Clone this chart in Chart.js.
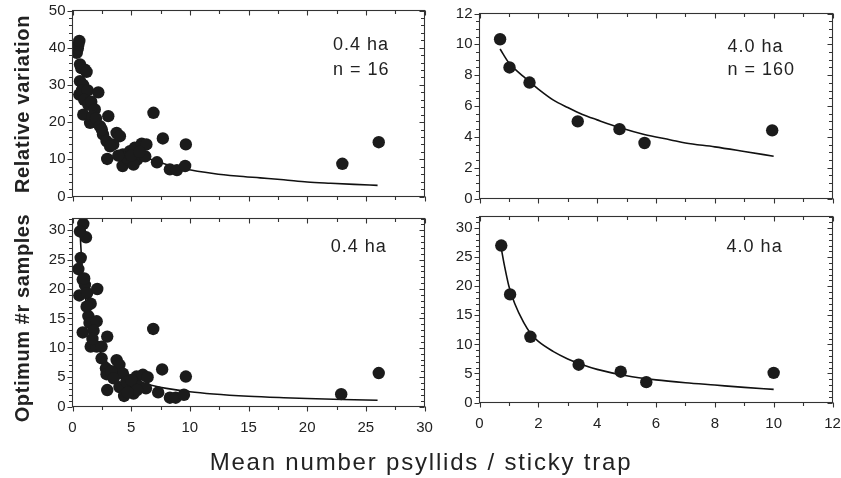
<!DOCTYPE html>
<html><head><meta charset="utf-8">
<script src="https://cdn.jsdelivr.net/npm/chart.js@4.4.1/dist/chart.umd.min.js"></script>
<style>
html,body{margin:0;padding:0;background:#fff}
body{width:841px;height:478px;position:relative;overflow:hidden;font-family:"Liberation Sans",Arial,sans-serif}
canvas{position:absolute}
.t{position:absolute;color:#222;white-space:nowrap;line-height:1}
</style></head><body>
<canvas id="c1" width="440" height="205" style="left:0;top:0"></canvas>
<canvas id="c2" width="411" height="205" style="left:430px;top:0"></canvas>
<canvas id="c3" width="440" height="245" style="left:0;top:205px"></canvas>
<canvas id="c4" width="411" height="245" style="left:430px;top:205px"></canvas>
<div class="t" id="yt1" style="left:22px;top:104px;font-size:20px;font-weight:bold;letter-spacing:0.7px;transform:translate(-50%,-50%) rotate(-90deg)">Relative variation</div>
<div class="t" id="yt2" style="left:22px;top:318px;font-size:20px;font-weight:bold;letter-spacing:0.6px;transform:translate(-50%,-50%) rotate(-90deg)">Optimum #r samples</div>
<div class="t" id="xt" style="left:421px;top:462px;font-size:24px;letter-spacing:1.8px;transform:translate(-50%,-50%)">Mean number psyllids / sticky trap</div>
<script>
// ---------- data ----------
// Top-left: relative variation, 0.4 ha
const rv04X = [0.36,0.45,0.5,0.58,0.64,0.75,1.06,1.2,0.64,0.9,0.58,0.8,1.3,2.2,1.0,1.35,1.6,0.92,1.9,1.5,1.7,2.0,2.34,3.05,2.6,2.9,2.5,3.76,4.04,3.47,3.2,4.3,2.96,4.27,4.9,5.3,5.9,6.3,4.75,5.5,6.2,5.2,4.6,3.9,5.0,5.7,6.9,7.2,7.7,8.3,8.9,9.6,9.66,23.0,26.1];
const rv04Y = [38.6,39.8,40.8,41.8,35.5,34.5,34.1,33.5,31,30,27.4,28.5,28.5,28,26,24.7,25.5,22,23.4,19.8,21.5,21,18.9,21.6,16.7,14.9,18,17.1,16.2,14,13.5,11.3,10.1,8.2,12.2,13.1,14.2,14,9.9,9.9,10.8,8.6,10.5,11,11,12,22.5,9.2,15.6,7.3,7.1,8.2,14,8.8,14.6];
const rv04FitX = [5.5,6.5,8,9.6,12,14,16,18,20,22,24,26];
const rv04FitY = [12.0,10.2,8.6,7.4,6.2,5.5,5.0,4.5,3.9,3.55,3.25,3.0];
// Top-right: relative variation, 4.0 ha
const rv40X = [0.70,1.02,1.70,3.34,4.76,5.61,9.95];
const rv40Y = [10.33,8.5,7.52,5.0,4.5,3.6,4.42];
const rv40FitX = [0.7,1.0,1.5,2.0,2.5,3.0,3.5,4.0,4.76,5.6,6.5,7.0,8.0,9.0,10.0];
const rv40FitY = [9.7,8.8,7.9,7.1,6.4,5.9,5.45,5.1,4.6,4.15,3.8,3.6,3.35,3.05,2.74];
// Bottom-left: optimum number of samples, 0.4 ha
const os04X = [0.92,1.15,0.64,0.7,0.5,0.58,0.87,1.06,1.25,0.87,1.55,1.35,1.45,2.11,2.06,1.8,1.55,2.06,2.48,2.48,2.96,2.85,2.9,2.96,3.6,3.76,4.0,4.3,4.0,4.4,4.9,5.2,5.46,5.7,6.0,6.26,6.4,6.88,7.3,7.64,8.3,8.8,9.5,9.66,22.9,26.1,1.2,1.7,3.3,4.6,5.0,5.5,3.5,4.7,1.0];
const os04Y = [31.1,28.8,29.8,25.3,23.4,18.9,21.6,20.7,19.3,12.6,17.5,15.4,14.2,20.0,14.5,12.9,10.2,10.2,10.2,8.2,11.9,6.5,5.5,2.8,5.3,7.9,7.1,5.6,3.3,1.8,3.0,2.2,5.1,3.4,5.4,3.1,5.0,13.2,2.4,6.3,1.5,1.5,2.0,5.1,2.1,5.7,17,11.5,6,4.2,4.5,2.8,4.8,2.4,21.8];
const os04FitX = [0.6,0.7,0.8,1.0,1.25,1.5,2,2.5,3,4,5,6,7,8,10,12,15,18,20,23,26];
const os04FitY = [31.8,27.6,24.5,20.1,16.4,13.9,10.8,8.8,7.4,5.8,4.7,4.0,3.48,3.09,2.52,2.14,1.75,1.49,1.35,1.19,1.07];
// Bottom-right: optimum number of samples, 4.0 ha
const os40X = [0.74,1.04,1.73,3.37,4.8,5.67,10.0];
const os40Y = [27.0,18.6,11.3,6.5,5.3,3.5,5.1];
const os40FitX = [0.74,0.85,1.0,1.2,1.5,1.75,2.0,2.5,3.0,3.5,4.0,5.0,6.0,7.0,8.0,9.0,10.0];
const os40FitY = [26.5,23.5,20.0,17.0,13.8,11.8,10.5,8.8,7.5,6.5,5.7,4.6,3.9,3.4,3.0,2.6,2.25];
// tick labels
const xTicksLeft = [0,5,10,15,20,25,30];
const xTicksRight = [0,2,4,6,8,10,12];
const yTicksRV04 = [0,10,20,30,40,50];
const yTicksRV40 = [0,2,4,6,8,10,12];
const yTicksOS = [0,5,10,15,20,25,30];
// panel labels
const labelsTL = ["0.4 ha","n = 16"];
const labelsTR = ["4.0 ha","n = 160"];
const labelsBL = ["0.4 ha"];
const labelsBR = ["4.0 ha"];

// ---------- drawing ----------
const FONT = '"Liberation Sans", Arial, sans-serif';
const pts = (xs, ys) => xs.map((x, i) => ({x, y: ys[i]}));

const frameTicks = {
  id: 'frameTicks',
  afterDraw(chart, args, o) {
    const {ctx, chartArea: a, scales: {x, y}} = chart;
    ctx.save();
    ctx.strokeStyle = '#333';
    ctx.lineWidth = 1.1;
    ctx.strokeRect(a.left, a.top, a.right - a.left, a.bottom - a.top);
    ctx.beginPath();
    const seg = (x1, y1, x2, y2) => { ctx.moveTo(x1, y1); ctx.lineTo(x2, y2); };
    const isMaj = (v, step) => Math.abs(v / step - Math.round(v / step)) < 1e-6;
    for (let v = x.min; v <= x.max + 1e-9; v += o.xMinor) {
      const p = Math.round(x.getPixelForValue(v)) + 0.5;
      const L = isMaj(v, o.xMajor) ? 5 : 3.5;
      seg(p, a.bottom, p, a.bottom + L);
      seg(p, a.top, p, a.top + L);
    }
    for (let v = y.min; v <= y.max + 1e-9; v += o.yMinor) {
      const p = Math.round(y.getPixelForValue(v)) + 0.5;
      const L = isMaj(v, o.yMajor) ? 5 : 3.5;
      seg(a.left - L, p, a.left, p);
      seg(a.right - L, p, a.right, p);
    }
    ctx.stroke();
    // panel labels
    ctx.fillStyle = '#222';
    ctx.font = '18px ' + FONT;
    ctx.letterSpacing = '1px';
    ctx.textBaseline = 'middle';
    ctx.textAlign = 'left';
    o.labels.forEach(l => ctx.fillText(l.text, x.getPixelForValue(l.x), y.getPixelForValue(l.y)));
    ctx.restore();
  }
};

function make(id, box, area, xr, yr, showX, scatter, fit, labels) {
  const W = box.w, H = box.h;
  new Chart(document.getElementById(id), {
    data: {
      datasets: [
        {type: 'scatter', data: scatter, pointRadius: 6.2, pointHoverRadius: 6.2, backgroundColor: '#1b1b1b', borderWidth: 0, order: 0},
        {type: 'line', data: fit, showLine: true, pointRadius: 0, borderColor: '#111', borderWidth: 1.6, cubicInterpolationMode: 'monotone', fill: false, order: 1}
      ]
    },
    options: {
      responsive: false, animation: false, devicePixelRatio: 1, events: [],
      layout: {padding: {left: 0, top: area.t - box.y, right: box.x + W - area.r, bottom: 0}},
      plugins: {legend: {display: false}, tooltip: {enabled: false},
        frameTicks: {xMajor: xr.major, xMinor: xr.minor, yMajor: yr.major, yMinor: yr.minor, labels}},
      scales: {
        x: {type: 'linear', min: xr.min, max: xr.max,
          afterBuildTicks: s => { s.ticks = xr.ticks.map(v => ({value: v})); },
          afterFit: s => { s.height = box.y + H - area.b; s.paddingLeft = 0; s.paddingRight = 0; s.paddingTop = 0; s.paddingBottom = 0; },
          ticks: {display: showX, padding: 12, color: '#222', font: {family: FONT, size: 15}, maxRotation: 0, autoSkip: false},
          grid: {display: false, drawTicks: false}, border: {display: false}},
        y: {type: 'linear', min: yr.min, max: yr.max,
          afterBuildTicks: s => { s.ticks = yr.ticks.map(v => ({value: v})); },
          afterFit: s => { s.width = area.l - box.x; s.paddingLeft = 0; s.paddingRight = 0; s.paddingTop = 0; s.paddingBottom = 0; },
          ticks: {padding: 7, color: '#222', font: {family: FONT, size: 15}, autoSkip: false},
          grid: {display: false, drawTicks: false}, border: {display: false}}
      }
    },
    plugins: [frameTicks]
  });
}

const xL = {min: 0, max: 30, major: 5, minor: 2.5, ticks: xTicksLeft};
const xR = {min: 0, max: 12, major: 2, minor: 1, ticks: xTicksRight};

make('c1', {x: 0, y: 0, w: 440, h: 205}, {l: 72.5, t: 10.5, r: 424.5, b: 196.5}, xL,
  {min: 0, max: 50, major: 10, minor: 2, ticks: yTicksRV04}, false,
  pts(rv04X, rv04Y), pts(rv04FitX, rv04FitY),
  [{x: 22.2, y: 40.7, text: labelsTL[0]}, {x: 22.2, y: 34.1, text: labelsTL[1]}]);

make('c2', {x: 430, y: 0, w: 411, h: 205}, {l: 479.5, t: 13.5, r: 832.5, b: 198.5}, xR,
  {min: 0, max: 12, major: 2, minor: 0.5, ticks: yTicksRV40}, false,
  pts(rv40X, rv40Y), pts(rv40FitX, rv40FitY),
  [{x: 8.43, y: 9.85, text: labelsTR[0]}, {x: 8.43, y: 8.34, text: labelsTR[1]}]);

make('c3', {x: 0, y: 205, w: 440, h: 245}, {l: 72.5, t: 218.5, r: 424.5, b: 406.5}, xL,
  {min: 0, max: 32, major: 5, minor: 1, ticks: yTicksOS}, true,
  pts(os04X, os04Y), pts(os04FitX, os04FitY),
  [{x: 22.0, y: 27.2, text: labelsBL[0]}]);

make('c4', {x: 430, y: 205, w: 411, h: 245}, {l: 479.5, t: 216.5, r: 832.5, b: 402.5}, xR,
  {min: 0, max: 32, major: 5, minor: 1, ticks: yTicksOS}, true,
  pts(os40X, os40Y), pts(os40FitX, os40FitY),
  [{x: 8.4, y: 26.7, text: labelsBR[0]}]);
</script>
</body></html>
